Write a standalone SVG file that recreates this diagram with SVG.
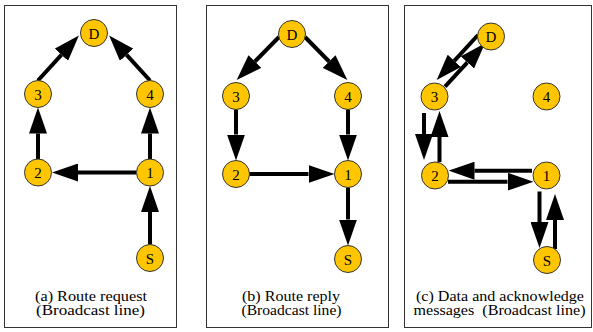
<svg xmlns="http://www.w3.org/2000/svg" width="593" height="332" viewBox="0 0 593 332">
<style>
.frame{fill:#fff;stroke:#333;stroke-width:1}
.node circle{fill:#FFC600;stroke:#333;stroke-width:1}
.node text{font-family:'Liberation Serif','Times New Roman',serif;font-size:15px;fill:#000;text-anchor:middle}
.cap{font-family:'Liberation Serif','Times New Roman',serif;font-size:14px;fill:#000;text-anchor:middle}
.edge{stroke:#000;stroke-width:4;fill:none;marker-end:url(#ah)}
</style>
<defs>
<marker id="ah" markerWidth="26" markerHeight="18" refX="0" refY="9" orient="auto" markerUnits="userSpaceOnUse">
<path d="M0,0 L26,9 L0,18 z" fill="#000"/>
</marker>
</defs>
<rect x="0" y="0" width="593" height="332" fill="#fff"/>
<g id="frames">
<rect class="frame" x="4.5" y="5.5" width="172" height="322"/>
<rect class="frame" x="206.5" y="5.5" width="182" height="322"/>
<rect class="frame" x="404.5" y="5.5" width="187" height="322"/>
</g>
<g id="connectors">
<line class="edge" x1="150" y1="244.5" x2="150" y2="212"/>
<line class="edge" x1="150" y1="159" x2="150" y2="133.5"/>
<line class="edge" x1="136.5" y1="172.5" x2="78" y2="172.5"/>
<line class="edge" x1="38" y1="159" x2="38" y2="133.5"/>
<line class="edge" x1="38" y1="80.5" x2="61.4" y2="54.8"/>
<line class="edge" x1="150" y1="80.5" x2="126.6" y2="54.8"/>
<line class="edge" x1="279" y1="37" x2="254.9" y2="61.5"/>
<line class="edge" x1="305" y1="37" x2="329.1" y2="61.5"/>
<line class="edge" x1="236" y1="109.5" x2="236" y2="134.5"/>
<line class="edge" x1="348" y1="109.5" x2="348" y2="134.5"/>
<line class="edge" x1="249.5" y1="174" x2="308.5" y2="174"/>
<line class="edge" x1="348" y1="187.5" x2="348" y2="219.5"/>
<line class="edge" x1="478" y1="35" x2="454.3" y2="60.8"/>
<line class="edge" x1="445" y1="86.7" x2="467.4" y2="62.4"/>
<line class="edge" x1="424" y1="113" x2="424" y2="134"/>
<line class="edge" x1="439.5" y1="162" x2="439.5" y2="137"/>
<line class="edge" x1="532" y1="170.7" x2="474.5" y2="170.7"/>
<line class="edge" x1="448" y1="181.7" x2="507.5" y2="181.7"/>
<line class="edge" x1="539.5" y1="191.5" x2="539.5" y2="222"/>
<line class="edge" x1="555" y1="249" x2="555" y2="220"/>
</g>
<g id="a-D" class="node"><circle cx="94" cy="33" r="13.5"/><text x="94" y="38.5">D</text></g>
<g id="a-3" class="node"><circle cx="38" cy="94" r="13.5"/><text x="38" y="99.5">3</text></g>
<g id="a-4" class="node"><circle cx="150" cy="94" r="13.5"/><text x="150" y="99.5">4</text></g>
<g id="a-2" class="node"><circle cx="38" cy="172.5" r="13.5"/><text x="38" y="178">2</text></g>
<g id="a-1" class="node"><circle cx="150" cy="172.5" r="13.5"/><text x="150" y="178">1</text></g>
<g id="a-S" class="node"><circle cx="150" cy="258" r="13.5"/><text x="150" y="263.5">S</text></g>
<g id="b-D" class="node"><circle cx="292" cy="34" r="13.5"/><text x="292" y="39.5">D</text></g>
<g id="b-3" class="node"><circle cx="236" cy="96" r="13.5"/><text x="236" y="101.5">3</text></g>
<g id="b-4" class="node"><circle cx="348" cy="96" r="13.5"/><text x="348" y="101.5">4</text></g>
<g id="b-2" class="node"><circle cx="236" cy="174" r="13.5"/><text x="236" y="179.5">2</text></g>
<g id="b-1" class="node"><circle cx="348" cy="174" r="13.5"/><text x="348" y="179.5">1</text></g>
<g id="b-S" class="node"><circle cx="348" cy="259" r="13.5"/><text x="348" y="264.5">S</text></g>
<g id="c-D" class="node"><circle cx="491" cy="36.5" r="13.5"/><text x="491" y="42">D</text></g>
<g id="c-3" class="node"><circle cx="434.5" cy="96.5" r="13.5"/><text x="434.5" y="102">3</text></g>
<g id="c-4" class="node"><circle cx="546.5" cy="96.5" r="13.5"/><text x="546.5" y="102">4</text></g>
<g id="c-2" class="node"><circle cx="435" cy="175.5" r="13.5"/><text x="435" y="181">2</text></g>
<g id="c-1" class="node"><circle cx="546.5" cy="175.5" r="13.5"/><text x="546.5" y="181">1</text></g>
<g id="c-S" class="node"><circle cx="547" cy="260" r="13.5"/><text x="547" y="265.5">S</text></g>
<g id="captions">
<text class="cap" x="91" y="300.5" textLength="112" lengthAdjust="spacingAndGlyphs">(a) Route request</text>
<text class="cap" x="90.5" y="314.5" textLength="109" lengthAdjust="spacingAndGlyphs">(Broadcast line)</text>
<text class="cap" x="291" y="300.5" textLength="98" lengthAdjust="spacingAndGlyphs">(b) Route reply</text>
<text class="cap" x="291.5" y="314.5" textLength="100" lengthAdjust="spacingAndGlyphs">(Broadcast line)</text>
<text class="cap" x="500" y="300.5" textLength="168" lengthAdjust="spacingAndGlyphs">(c) Data and acknowledge</text>
<text class="cap" x="499.5" y="314.5" textLength="172" lengthAdjust="spacingAndGlyphs" xml:space="preserve">messages  (Broadcast line)</text>
</g>
</svg>
